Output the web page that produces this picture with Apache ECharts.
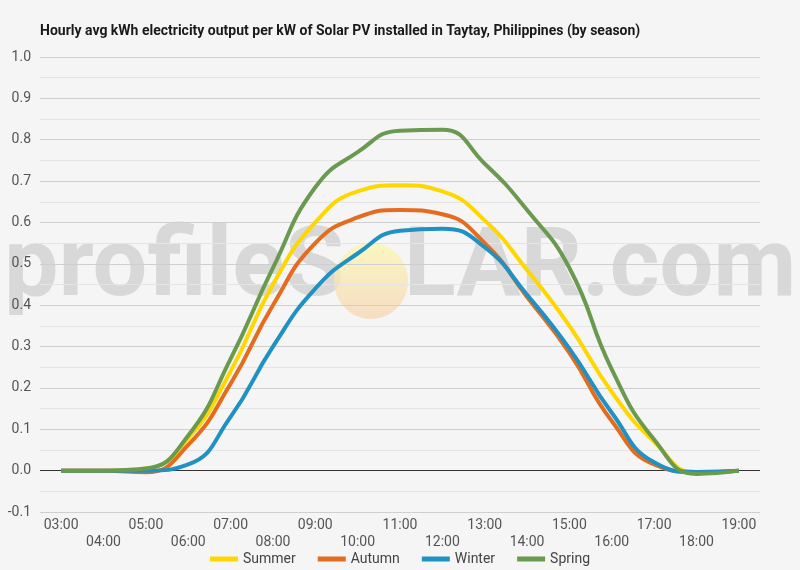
<!DOCTYPE html>
<html>
<head>
<meta charset="utf-8">
<script src="https://cdn.jsdelivr.net/npm/echarts@6/dist/echarts.min.js"></script>
<style>
html,body{margin:0;padding:0;background:#f5f5f5;}
#chart{width:800px;height:570px;}
</style>
</head>
<body>
<div id="chart"></div>
<script>
const hours = ['03:00','04:00','05:00','06:00','07:00','08:00','09:00','10:00','11:00','12:00','13:00','14:00','15:00','16:00','17:00','18:00','19:00'];
const summer = [0, 0, 0.005, 0.078, 0.24, 0.45, 0.60, 0.675, 0.69, 0.675, 0.605, 0.485, 0.35, 0.19, 0.07, -0.005, 0];
const autumn = [0, 0, -0.004, 0.062, 0.21, 0.40, 0.55, 0.612, 0.63, 0.62, 0.55, 0.42, 0.285, 0.12, 0.015, -0.003, 0];
const winter = [0, 0, 0, 0.015, 0.13, 0.30, 0.44, 0.525, 0.58, 0.585, 0.54, 0.425, 0.295, 0.14, 0.02, -0.003, 0];
const spring = [0, 0, 0.005, 0.085, 0.27, 0.49, 0.685, 0.77, 0.822, 0.824, 0.742, 0.63, 0.49, 0.245, 0.075, -0.008, 0];
const seriesNames = ['Summer','Autumn','Winter','Spring'];
const colors = ['#FFD700','#E46C1E','#1F91C2','#6A9A4F'];

const FONT = 'Roboto';
// split line colours: -0.1 ... 1.0 in 0.05 steps
const splitColors = [];
for (let i = 0; i <= 22; i++) {
  if (i === 2) splitColors.push('#333333');
  else splitColors.push(i % 2 === 0 ? '#cfcfcf' : '#e4e4e4');
}

const chart = echarts.init(document.getElementById('chart'));
const data = [summer, autumn, winter, spring];
chart.setOption({
  backgroundColor: '#f5f5f5',
  animation: false,
  textStyle: { fontFamily: FONT },
  title: {
    text: 'Hourly avg kWh electricity output per kW of Solar PV installed in Taytay, Philippines (by season)',
    left: 35, top: 19,
    textStyle: { fontFamily: FONT, fontSize: 14, fontWeight: 'bold', color: '#1a1a1a' }
  },
  graphic: [
    { type: 'text', x: 4, y: 222, scaleX: 1.0, z: 0, silent: true,
      style: { text: 'profileS', fontFamily: FONT, fontWeight: 'bold', fontSize: 97, fill: 'rgba(150,150,150,0.3)' } },
    { type: 'ellipse', z: 0, silent: true,
      shape: { cx: 371, cy: 281, rx: 37, ry: 38 },
      style: { fill: { type: 'linear', x: 0, y: 0, x2: 0, y2: 1,
        colorStops: [{ offset: 0, color: 'rgba(252,247,175,0.75)' }, { offset: 1, color: 'rgba(246,212,178,0.75)' }] } } },
    { type: 'text', x: 404, y: 222, scaleX: 0.985, z: 0, silent: true,
      style: { text: 'LAR.com', fontFamily: FONT, fontWeight: 'bold', fontSize: 97, fill: 'rgba(150,150,150,0.3)' } }
  ],
  legend: {
    bottom: -1, left: 'center',
    icon: 'rect', itemWidth: 28, itemHeight: 5, itemGap: 22,
    textStyle: { fontFamily: FONT, fontSize: 14, color: '#444' },
    data: seriesNames
  },
  grid: { left: 40, right: 40, top: 57, bottom: 58 },
  xAxis: {
    type: 'category',
    data: hours,
    boundaryGap: true,
    axisLine: { show: false },
    axisTick: { show: false },
    axisLabel: {
      interval: 0, margin: 5, color: '#555', fontSize: 14, fontFamily: FONT, lineHeight: 17,
      formatter: function (v, i) { return i % 2 === 1 ? '\n' + v : v; }
    }
  },
  yAxis: {
    type: 'value', min: -0.1, max: 1.0, interval: 0.05,
    axisLine: { show: false }, axisTick: { show: false },
    axisLabel: {
      color: '#555', fontSize: 14, fontFamily: FONT, margin: 9,
      formatter: function (v) {
        const k = Math.round(v * 100);
        return (k % 10 === 0) ? (k / 100).toFixed(1) : '';
      }
    },
    splitLine: { lineStyle: { color: splitColors, width: 1 } }
  },
  series: seriesNames.map((n, i) => ({
    name: n, type: 'line', data: data[i], smooth: 0.5,
    showSymbol: false, symbol: 'none', z: 3,
    lineStyle: { width: 4, color: colors[i] },
    itemStyle: { color: colors[i] }
  }))
});
</script>
</body>
</html>
